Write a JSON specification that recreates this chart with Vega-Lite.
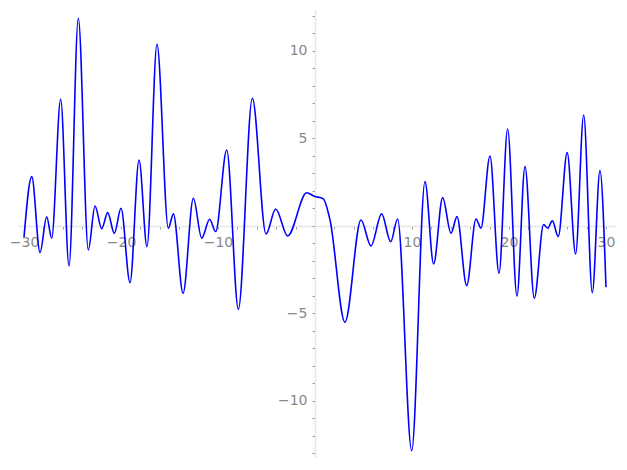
{
  "$schema": "https://vega.github.io/schema/vega-lite/v6.json",
  "width": 597,
  "height": 448,
  "autosize": "none",
  "padding": {"left": 18, "top": 10, "right": 12, "bottom": 12},
  "background": "white",
  "config": {"view": {"stroke": null}},
  "data": {"values": [
    {"x": -30, "y": -0.63},
    {"x": -29.2, "y": 2.82},
    {"x": -28.35, "y": -1.52},
    {"x": -27.66, "y": 0.53},
    {"x": -27.15, "y": -0.7},
    {"x": -26.22, "y": 7.24},
    {"x": -25.36, "y": -2.29},
    {"x": -24.4, "y": 11.87},
    {"x": -23.37, "y": -1.37},
    {"x": -22.68, "y": 1.14},
    {"x": -21.99, "y": -0.15},
    {"x": -21.37, "y": 0.76},
    {"x": -20.69, "y": -0.42},
    {"x": -20.0, "y": 1.01},
    {"x": -19.07, "y": -3.24},
    {"x": -18.14, "y": 3.77},
    {"x": -17.32, "y": -1.18},
    {"x": -16.29, "y": 10.38},
    {"x": -15.12, "y": -0.13},
    {"x": -14.6, "y": 0.69},
    {"x": -13.6, "y": -3.85},
    {"x": -12.54, "y": 1.58},
    {"x": -11.68, "y": -0.7},
    {"x": -10.86, "y": 0.38},
    {"x": -10.24, "y": -0.32},
    {"x": -9.1, "y": 4.34},
    {"x": -7.9, "y": -4.76},
    {"x": -6.46, "y": 7.3},
    {"x": -5.05, "y": -0.46},
    {"x": -4.05, "y": 0.97},
    {"x": -2.82, "y": -0.57},
    {"x": -0.86, "y": 1.9},
    {"x": 0, "y": 1.68},
    {"x": 0.5, "y": 1.62},
    {"x": 0.86, "y": 1.55},
    {"x": 1.55, "y": 0.34},
    {"x": 3.09, "y": -5.5},
    {"x": 4.74, "y": 0.34},
    {"x": 5.77, "y": -1.14},
    {"x": 6.87, "y": 0.69},
    {"x": 7.8, "y": -0.9},
    {"x": 8.52, "y": 0.4},
    {"x": 9.97, "y": -12.84},
    {"x": 11.34, "y": 2.53},
    {"x": 12.23, "y": -2.17},
    {"x": 13.16, "y": 1.62},
    {"x": 14.02, "y": -0.42},
    {"x": 14.64, "y": 0.53},
    {"x": 15.64, "y": -3.41},
    {"x": 16.6, "y": 0.4},
    {"x": 17.11, "y": -0.13},
    {"x": 18.04, "y": 4.0},
    {"x": 18.97, "y": -2.7},
    {"x": 19.86, "y": 5.54},
    {"x": 20.82, "y": -4.0},
    {"x": 21.65, "y": 3.39},
    {"x": 22.61, "y": -4.13},
    {"x": 23.57, "y": 0.08},
    {"x": 23.99, "y": -0.13},
    {"x": 24.47, "y": 0.29},
    {"x": 25.08, "y": -0.61},
    {"x": 26.0, "y": 4.19},
    {"x": 26.87, "y": -1.6},
    {"x": 27.7, "y": 6.34},
    {"x": 28.59, "y": -3.81},
    {"x": 29.38, "y": 3.16},
    {"x": 30.0, "y": -3.5}
  ]},
  "mark": {"type": "line", "color": "#0000ff", "strokeWidth": 1.6, "interpolate": "monotone"},
  "encoding": {
    "x": {
      "field": "x", "type": "quantitative",
      "scale": {"domain": [-30.62, 30.93], "nice": false, "zero": false},
      "axis": {
        "title": null, "orient": "bottom", "offset": -232, "grid": false,
        "values": [-30,-28,-26,-24,-22,-20,-18,-16,-14,-12,-10,-8,-6,-4,-2,0,2,4,6,8,10,12,14,16,18,20,22,24,26,28,30],
        "labelExpr": "(datum.value % 10 == 0 && datum.value != 0) ? replace(format(datum.value, 'd'), '-', '\u2212') : ''",
        "domainColor": "#e6e6e6", "domainWidth": 1.5,
        "tickColor": "#999999", "tickSize": 3, "tickWidth": 1,
        "labelColor": "#888888", "labelFont": "DejaVu Sans", "labelFontSize": 14,
        "labelPadding": 6, "labelFlush": false, "labelOverlap": false
      }
    },
    "y": {
      "field": "y", "type": "quantitative",
      "scale": {"domain": [-13.26, 12.34], "nice": false, "zero": false},
      "axis": {
        "title": null, "orient": "left", "offset": -297, "grid": false,
        "values": [-13,-12,-11,-10,-9,-8,-7,-6,-5,-4,-3,-2,-1,0,1,2,3,4,5,6,7,8,9,10,11,12],
        "labelExpr": "(datum.value % 5 == 0 && datum.value != 0) ? replace(format(datum.value, 'd'), '-', '\u2212') : ''",
        "domainColor": "#e6e6e6", "domainWidth": 1.5,
        "tickColor": "#999999", "tickSize": 3, "tickWidth": 1,
        "labelColor": "#888888", "labelFont": "DejaVu Sans", "labelFontSize": 14,
        "labelPadding": 5, "labelFlush": false, "labelOverlap": false
      }
    }
  }
}
